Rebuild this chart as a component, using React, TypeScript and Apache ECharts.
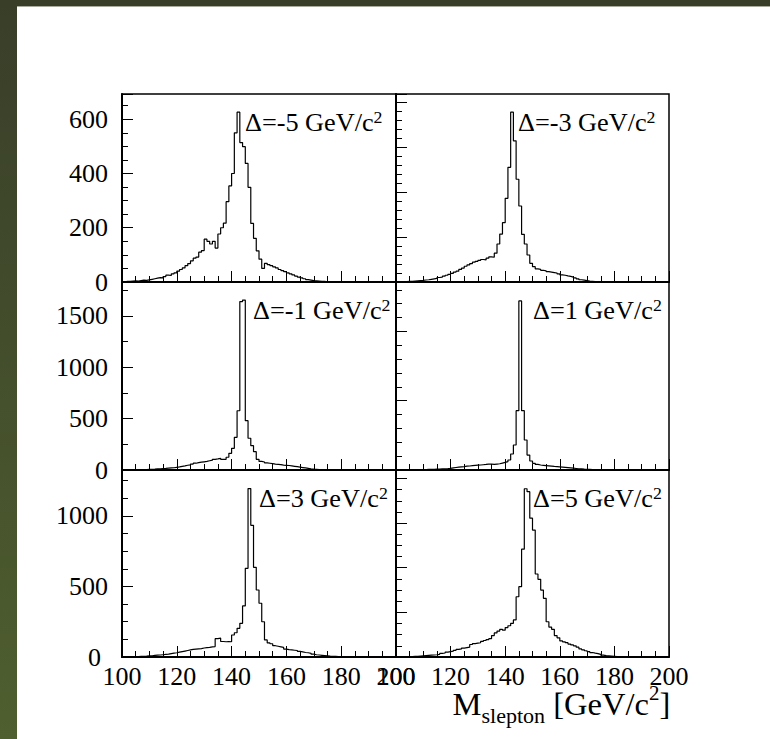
import React, { useEffect, useRef } from "react";
import * as echarts from "echarts";

// ---------------- data ----------------
const X_MIN = 100;
const X_MAX = 200;
const X_INTERVAL = 20;
// lower bin edges (1 GeV/c^2 bins from 100 to 200)
const binLowEdges: number[] = Array.from({ length: 100 }, (_, i) => X_MIN + i);

const panelTitles = [
  "Δ=-5 GeV/c",
  "Δ=-3 GeV/c",
  "Δ=-1 GeV/c",
  "Δ=1 GeV/c",
  "Δ=3 GeV/c",
  "Δ=5 GeV/c",
];

const countsMinus5 = [
  1, 2, 2, 3, 4, 3, 5, 7, 6, 8,
  10, 12, 14, 16, 15, 20, 25, 24, 30, 34,
  40, 46, 52, 60, 68, 78, 88, 92, 110, 116,
  158, 150, 140, 150, 125, 177, 200, 217, 296, 354,
  400, 550, 626, 514, 499, 437, 349, 216, 161, 115,
  84, 50, 69, 64, 60, 56, 52, 46, 42, 38,
  34, 30, 26, 22, 18, 15, 12, 9, 7, 5,
  4, 3, 2, 2, 1, 1, 0, 0, 0, 0,
  0, 0, 0, 0, 0, 0, 0, 0, 0, 0,
  0, 0, 0, 0, 0, 0, 0, 0, 0, 0,
];

const countsMinus3 = [
  1, 1, 2, 2, 3, 3, 4, 5, 6, 7,
  9, 10, 12, 14, 16, 20, 22, 26, 30, 34,
  38, 44, 48, 56, 62, 70, 76, 82, 88, 92,
  96, 100, 98, 106, 112, 110, 128, 169, 213, 264,
  372, 510, 755, 628, 457, 338, 212, 169, 120, 83,
  68, 58, 56, 52, 50, 46, 44, 42, 40, 36,
  32, 30, 27, 25, 22, 18, 14, 10, 8, 6,
  4, 3, 2, 2, 1, 1, 0, 0, 0, 0,
  0, 0, 0, 0, 0, 0, 0, 0, 0, 0,
  0, 0, 0, 0, 0, 0, 0, 0, 0, 0,
];

const countsMinus1 = [
  1, 1, 2, 2, 3, 3, 4, 4, 5, 6,
  7, 8, 10, 11, 13, 15, 18, 20, 22, 26,
  30, 35, 40, 46, 50, 58, 66, 72, 76, 80,
  84, 90, 96, 104, 108, 114, 104, 104, 124, 162,
  211, 318, 577, 1640, 1655, 480, 309, 237, 178, 104,
  84, 78, 70, 66, 62, 58, 55, 52, 48, 46,
  44, 40, 36, 32, 28, 24, 20, 16, 12, 9,
  7, 5, 4, 3, 2, 1, 1, 0, 0, 0,
  0, 0, 0, 0, 0, 0, 0, 0, 0, 0,
  0, 0, 0, 0, 0, 0, 0, 0, 0, 0,
];

const countsPlus1 = [
  0, 1, 1, 2, 2, 3, 3, 4, 5, 6,
  7, 8, 9, 10, 12, 13, 15, 17, 20, 24,
  30, 36, 42, 46, 50, 55, 58, 62, 66, 70,
  72, 76, 80, 86, 84, 82, 86, 90, 100, 110,
  120, 144, 231, 361, 856, 2440, 856, 433, 216, 130,
  96, 80, 72, 68, 64, 60, 56, 52, 50, 46,
  42, 38, 34, 30, 26, 22, 18, 15, 12, 10,
  8, 6, 5, 4, 3, 2, 1, 1, 0, 0,
  0, 0, 0, 0, 0, 0, 0, 0, 0, 0,
  0, 0, 0, 0, 0, 0, 0, 0, 0, 0,
];

const countsPlus3 = [
  0, 1, 1, 2, 2, 3, 4, 5, 6, 8,
  9, 11, 13, 14, 16, 18, 20, 24, 27, 30,
  34, 38, 42, 46, 50, 54, 56, 58, 60, 64,
  66, 68, 72, 74, 130, 134, 110, 108, 110, 108,
  156, 172, 203, 239, 362, 629, 1194, 934, 636, 475,
  381, 250, 121, 100, 94, 80, 76, 72, 68, 56,
  52, 50, 48, 46, 40, 36, 32, 30, 26, 20,
  16, 14, 12, 10, 8, 6, 5, 4, 3, 2,
  1, 1, 0, 0, 0, 0, 0, 0, 0, 0,
  0, 0, 0, 0, 0, 0, 0, 0, 0, 0,
];

const countsPlus5 = [
  0, 0, 1, 1, 2, 2, 3, 3, 4, 5,
  6, 7, 8, 9, 10, 12, 16, 18, 22, 24,
  26, 30, 34, 36, 40, 42, 44, 56, 60, 62,
  64, 70, 74, 78, 82, 96, 108, 116, 124, 120,
  132, 140, 151, 166, 270, 315, 483, 754, 741, 622,
  569, 372, 348, 300, 263, 158, 134, 124, 96, 86,
  72, 68, 64, 58, 54, 50, 44, 36, 32, 28,
  24, 20, 17, 15, 12, 8, 6, 5, 4, 3,
  2, 1, 1, 0, 0, 0, 0, 0, 0, 0,
  0, 0, 0, 0, 0, 0, 0, 0, 0, 0,
];

const panelCounts = [countsMinus5, countsMinus3, countsMinus1, countsPlus1, countsPlus3, countsPlus5];

// y-axis scales of each pad
const yMaxes = [693, 836, 1831, 2713, 1326, 838];
const yIntervals = [200, 200, 500, 1000, 500, 200];
const yMinorSplits = [4, 5, 2, 5, 4, 4];

// ---------------- layout ----------------
const W = 770;
const H = 739;
const COL_LEFT = [122, 396];
const COL_W = [274, 273];
const ROW_TOP = [94, 282, 470];
const ROW_H = [188, 188, 187];
const LABEL_DX = [123, 122, 131, 137, 137, 137];
const LABEL_BASE_DY = 37.5;
const FONT = '"Liberation Serif", "Times New Roman", Times, serif';

function App() {
  const ref = useRef<HTMLDivElement>(null);

  useEffect(() => {
    if (!ref.current) return;
    const chart = echarts.init(ref.current, null, { renderer: "svg" });

    const cv = document.createElement("canvas").getContext("2d") as CanvasRenderingContext2D;
    const measure = (t: string, s: number) => {
      cv.font = `${s}px "Liberation Serif"`;
      return cv.measureText(t).width;
    };
    const run = (
      x0: number,
      baseline: number,
      sx: number,
      segs: { text: string; size: number; dy: number }[]
    ) => {
      const els: any[] = [];
      let x = x0;
      for (const s of segs) {
        els.push({
          type: "text",
          x,
          y: baseline + s.dy - 0.34 * s.size,
          scaleX: sx,
          z: 10,
          silent: true,
          style: {
            text: s.text,
            fontSize: s.size,
            fontFamily: FONT,
            fill: "#000",
            align: "left",
            textAlign: "left",
            verticalAlign: "middle",
            textVerticalAlign: "middle",
          },
        });
        x += measure(s.text, s.size) * sx;
      }
      return els;
    };

    const plain = (v: number) => String(v);

    const grids: any[] = [];
    const xAxes: any[] = [];
    const yAxes: any[] = [];
    const series: any[] = [];
    const graphics: any[] = [];

    // frame background
    graphics.push({
      type: "rect",
      shape: { x: 0, y: 0, width: 17, height: H },
      z: -10,
      silent: true,
      style: {
        fill: new echarts.graphic.LinearGradient(0, 0, 0, 1, [
          { offset: 0, color: "#393e29" },
          { offset: 1, color: "#4f5f2f" },
        ]),
      },
    });
    graphics.push({
      type: "rect",
      shape: { x: 0, y: 0, width: W, height: 6 },
      z: -9,
      silent: true,
      style: { fill: "#383e28" },
    });
    graphics.push({
      type: "rect",
      shape: { x: 17, y: 6, width: W - 17, height: 1 },
      z: -9,
      silent: true,
      style: { fill: "#a9ab9e" },
    });

    for (let p = 0; p < 6; p++) {
      const row = Math.floor(p / 2);
      const col = p % 2;
      grids.push({
        left: COL_LEFT[col],
        top: ROW_TOP[row],
        width: COL_W[col],
        height: ROW_H[row],
        show: true,
        borderColor: "#000",
        borderWidth: 1.5,
        backgroundColor: "transparent",
      });
      xAxes.push({
        type: "value",
        gridIndex: p,
        min: X_MIN,
        max: X_MAX,
        interval: X_INTERVAL,
        axisLine: { show: true, onZero: false, lineStyle: { color: "#000", width: 2 } },
        axisTick: { show: true, inside: true, length: 11, lineStyle: { color: "#000", width: 1 } },
        minorTick: { show: true, splitNumber: 4, length: 6, lineStyle: { color: "#000", width: 1 } },
        splitLine: { show: false },
        axisLabel: {
          show: row === 2,
          formatter: plain,
          fontFamily: FONT,
          fontSize: 26,
          lineHeight: 18,
          color: "#000",
          margin: 10,
        },
      });
      const bottomRow = row === 2;
      yAxes.push({
        type: "value",
        gridIndex: p,
        min: 0,
        max: yMaxes[p],
        interval: yIntervals[p],
        axisLine: { show: true, onZero: false, lineStyle: { color: "#000", width: 2 } },
        axisTick: { show: true, inside: true, length: 11, lineStyle: { color: "#000", width: 1 } },
        minorTick: { show: true, splitNumber: yMinorSplits[p], length: 6, lineStyle: { color: "#000", width: 1 } },
        splitLine: { show: false },
        axisLabel: {
          show: col === 0,
          showMaxLabel: false,
          formatter: (v: number) => (bottomRow && v === 0 ? "{z|0}" : String(v)),
          rich: {
            z: { fontFamily: FONT, fontSize: 26, lineHeight: 18, color: "#000", padding: [0, 7, 0, 0] },
          },
          fontFamily: FONT,
          fontSize: 26,
          lineHeight: 18,
          color: "#000",
          margin: 14,
        },
      });
      const counts = panelCounts[p];
      const data: number[][] = binLowEdges.map((x, i) => [x, counts[i]]);
      data.push([X_MAX, counts[counts.length - 1]]);
      series.push({
        type: "line",
        xAxisIndex: p,
        yAxisIndex: p,
        step: "end",
        showSymbol: false,
        symbol: "none",
        data,
        lineStyle: { color: "#000", width: 1.2 },
        z: 3,
      });
      graphics.push(
        ...run(COL_LEFT[col] + LABEL_DX[p], ROW_TOP[row] + LABEL_BASE_DY, 1.05, [
          { text: panelTitles[p], size: 25, dy: 0 },
          { text: "2", size: 17, dy: -9 },
        ])
      );
    }

    graphics.push(
      ...run(452.5, 715, 1.05, [
        { text: "M", size: 31, dy: 0 },
        { text: "slepton", size: 21, dy: 8 },
        { text: " [GeV/c", size: 31, dy: 0 },
        { text: "2", size: 20, dy: -15 },
        { text: "]", size: 31, dy: 0 },
      ])
    );

    chart.setOption({
      animation: false,
      backgroundColor: "#fff",
      grid: grids,
      xAxis: xAxes,
      yAxis: yAxes,
      series,
      graphic: { elements: graphics },
    });

    return () => chart.dispose();
  }, []);

  return (
    <div
      ref={ref}
      style={{ position: "fixed", left: 0, top: 0, width: W, height: H, background: "#fff" }}
    />
  );
}

export default App;
